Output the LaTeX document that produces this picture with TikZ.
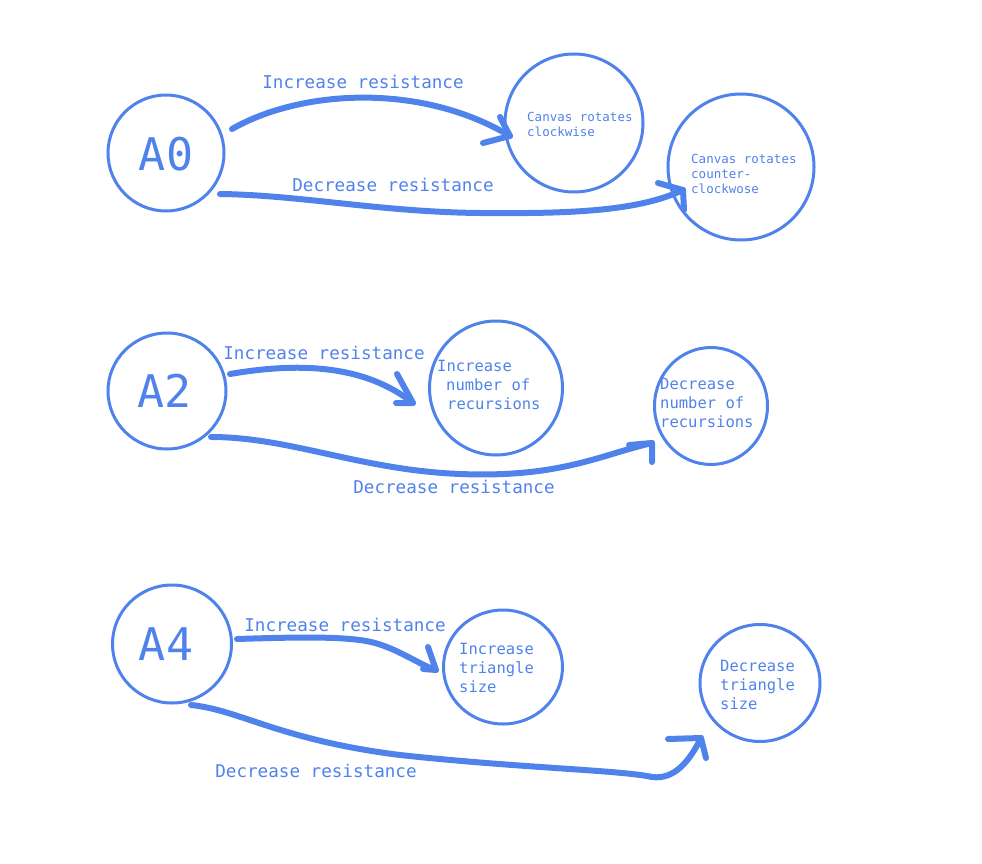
\documentclass[tikz,border=0pt]{standalone}
\usepackage{fontspec}
\setmonofont{DejaVu Sans Mono}
\usetikzlibrary{shapes.geometric}
\definecolor{sketchblue}{RGB}{80,130,235}
\tikzset{
  state/.style={draw=sketchblue, line width=3pt, ellipse, inner sep=0pt},
  big/.style={text=sketchblue, font=\ttfamily\fontsize{45}{45}\selectfont},
  lbl/.style={text=sketchblue, font=\ttfamily\fontsize{17.6}{20}\selectfont, inner sep=0pt},
  small/.style={text=sketchblue, font=\ttfamily\fontsize{12.5}{15}\selectfont, align=left, inner sep=0pt, anchor=west},
  mid/.style={text=sketchblue, font=\ttfamily\fontsize{15.5}{19}\selectfont, align=left, inner sep=0pt, anchor=west},
  flow/.style={draw=sketchblue, line width=6pt, line cap=round, line join=round},
}
\begin{document}
\begin{tikzpicture}[x=1pt,y=-1pt]
\useasboundingbox (0,0) rectangle (982,864);
% ---- row A0
\node[state, minimum width=116pt, minimum height=116pt] (a0) at (166,153) {};
\node[big] (a0t) at (166,154) {A0};
\node[state, minimum width=138pt, minimum height=138pt] (cw) at (574,123) {};
\node[small] (cwt) at (527,124.5) {Canvas rotates\\clockwise};
\node[state, minimum width=146pt, minimum height=146pt] (ccw) at (741,167) {};
\node[small] (ccwt) at (691,174) {Canvas rotates\\counter-\\clockwose};
\node[lbl] (l1) at (363,82) {Increase resistance};
\node[lbl] (l2) at (393,185) {Decrease resistance};
\coordinate (s1) at (232,129);
\coordinate (t1) at (510,136);
\coordinate (s2) at (220,194);
\coordinate (t2) at (683,190);
\draw[flow] (s1) .. controls (300,90) and (420,82) .. (t1);
\draw[flow] (483,143) -- (t1) -- (500,117);
\draw[flow] (s2) .. controls (300,195) and (380,212) .. (480,213) .. controls (580,214) and (640,210) .. (t2);
\draw[flow] (658,183) -- (t2) -- (684,210);
% ---- row A2
\node[state, minimum width=118pt, minimum height=116pt] (a2) at (167,391) {};
\node[big] (a2t) at (165,391) {A2};
\node[state, minimum width=133pt, minimum height=134pt] (inr) at (496,388) {};
\node[mid] (inrt) at (437,385) {Increase\\\hspace*{9pt}number of\\\hspace*{10pt}recursions};
\node[state, minimum width=113pt, minimum height=117pt] (der) at (711,406) {};
\node[mid] (dert) at (660,402.5) {Decrease\\number of\\recursions};
\node[lbl] (l3) at (324,353) {Increase resistance};
\node[lbl] (l4) at (454,487) {Decrease resistance};
\coordinate (s3) at (230,374);
\coordinate (t3) at (413,403);
\coordinate (s4) at (211,437);
\coordinate (t4) at (652,443);
\draw[flow] (s3) .. controls (300,362) and (365,365) .. (t3);
\draw[flow] (397,374) -- (t3) -- (396,403);
\draw[flow] (s4) .. controls (290,437) and (360,470) .. (460,474) .. controls (560,478) and (600,455) .. (t4);
\draw[flow] (629,445) -- (t4) -- (652,462);
% ---- row A4
\node[state, minimum width=119pt, minimum height=118pt] (a4) at (172,644) {};
\node[big] (a4t) at (166,644) {A4};
\node[state, minimum width=119pt, minimum height=114pt] (its) at (503,667) {};
\node[mid] (itst) at (459,668) {Increase\\triangle\\size};
\node[state, minimum width=120pt, minimum height=117pt] (dts) at (760,683) {};
\node[mid] (dtst) at (720,685) {Decrease\\triangle\\size};
\node[lbl] (l5) at (345,625) {Increase resistance};
\node[lbl] (l6) at (316,771) {Decrease resistance};
\coordinate (s5) at (237,639);
\coordinate (t5) at (436,670);
\coordinate (s6) at (191,705);
\coordinate (t6) at (701,738);
\draw[flow] (s5) .. controls (300,637) and (350,636) .. (375,643) .. controls (400,650) and (420,665) .. (t5);
\draw[flow] (428,647) -- (t5) -- (423,669);
\draw[flow] (s6) .. controls (240,710) and (280,740) .. (400,755) .. controls (520,768) and (620,770) .. (652,777) .. controls (675,780) and (690,760) .. (t6);
\draw[flow] (668,739) -- (t6) -- (706,758);
\end{tikzpicture}
\end{document}
